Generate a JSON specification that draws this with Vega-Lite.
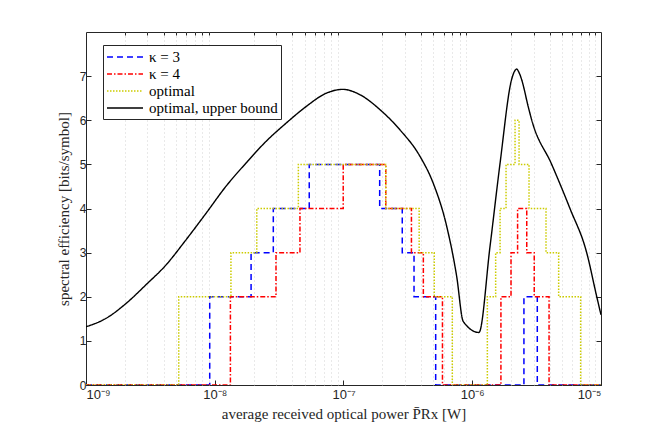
{
  "$schema": "https://vega.github.io/schema/vega-lite/v6.json",
  "width": 515,
  "height": 353,
  "autosize": {"type": "none"},
  "padding": {"left": 86, "top": 32, "right": 63, "bottom": 49},
  "background": "white",
  "config": {
    "view": {"stroke": "#262626", "strokeWidth": 1},
    "axis": {
      "labelFont": "Liberation Sans",
      "labelFontSize": 12,
      "labelColor": "#262626",
      "titleFont": "Liberation Serif",
      "titleFontSize": 15,
      "titleFontWeight": "normal",
      "titleColor": "#262626",
      "domain": false,
      "tickColor": "#262626",
      "gridColor": "#dcdcdc",
      "gridWidth": 0.8
    },
    "legend": {
      "orient": "none",
      "legendX": 17,
      "legendY": 13,
      "strokeColor": "#262626",
      "fillColor": "white",
      "padding": 3,
      "rowPadding": 0,
      "labelFont": "Liberation Serif",
      "labelFontSize": 15,
      "labelColor": "#000000",
      "labelOffset": 15,
      "symbolType": "M-2.25,0H2.25",
      "symbolSize": 256,
      "symbolOffset": 10,
      "symbolStrokeWidth": 1.5,
      "title": null
    }
  },
  "datasets": {
    "steps": [
      {"s": "κ = 3", "p": 1e-9, "se": 0},
      {"s": "κ = 3", "p": 9.14e-9, "se": 2},
      {"s": "κ = 3", "p": 1.915e-8, "se": 3},
      {"s": "κ = 3", "p": 2.85e-8, "se": 4},
      {"s": "κ = 3", "p": 5.42e-8, "se": 5},
      {"s": "κ = 3", "p": 1.91e-7, "se": 4},
      {"s": "κ = 3", "p": 2.86e-7, "se": 3},
      {"s": "κ = 3", "p": 3.53e-7, "se": 2},
      {"s": "κ = 3", "p": 5.2e-7, "se": 0},
      {"s": "κ = 3", "p": 2.52e-6, "se": 2},
      {"s": "κ = 3", "p": 3.2e-6, "se": 0},
      {"s": "κ = 3", "p": 1e-5, "se": 0},
      {"s": "κ = 4", "p": 1e-9, "se": 0},
      {"s": "κ = 4", "p": 1.323e-8, "se": 2},
      {"s": "κ = 4", "p": 2.99e-8, "se": 3},
      {"s": "κ = 4", "p": 4.59e-8, "se": 4},
      {"s": "κ = 4", "p": 9.95e-8, "se": 5},
      {"s": "κ = 4", "p": 2.13e-7, "se": 4},
      {"s": "κ = 4", "p": 3.37e-7, "se": 3},
      {"s": "κ = 4", "p": 4.17e-7, "se": 2},
      {"s": "κ = 4", "p": 5.87e-7, "se": 0},
      {"s": "κ = 4", "p": 1.67e-6, "se": 2},
      {"s": "κ = 4", "p": 2.0e-6, "se": 3},
      {"s": "κ = 4", "p": 2.25e-6, "se": 4},
      {"s": "κ = 4", "p": 2.65e-6, "se": 3},
      {"s": "κ = 4", "p": 3.03e-6, "se": 2},
      {"s": "κ = 4", "p": 3.95e-6, "se": 0},
      {"s": "κ = 4", "p": 1e-5, "se": 0},
      {"s": "optimal", "p": 1e-9, "se": 0},
      {"s": "optimal", "p": 5.25e-9, "se": 2},
      {"s": "optimal", "p": 1.336e-8, "se": 3},
      {"s": "optimal", "p": 2.12e-8, "se": 4},
      {"s": "optimal", "p": 4.46e-8, "se": 5},
      {"s": "optimal", "p": 2.13e-7, "se": 4},
      {"s": "optimal", "p": 3.87e-7, "se": 3},
      {"s": "optimal", "p": 5.07e-7, "se": 2},
      {"s": "optimal", "p": 7.0e-7, "se": 0},
      {"s": "optimal", "p": 1.31e-6, "se": 2},
      {"s": "optimal", "p": 1.52e-6, "se": 3},
      {"s": "optimal", "p": 1.645e-6, "se": 4},
      {"s": "optimal", "p": 1.83e-6, "se": 5},
      {"s": "optimal", "p": 2.15e-6, "se": 6},
      {"s": "optimal", "p": 2.31e-6, "se": 5},
      {"s": "optimal", "p": 2.76e-6, "se": 4},
      {"s": "optimal", "p": 3.74e-6, "se": 3},
      {"s": "optimal", "p": 4.69e-6, "se": 2},
      {"s": "optimal", "p": 6.95e-6, "se": 0},
      {"s": "optimal", "p": 1e-5, "se": 0}
    ],
    "bound": [
      {"s": "optimal, upper bound", "p": 1e-9, "se": 1.32},
      {"s": "optimal, upper bound", "p": 1.43e-9, "se": 1.51},
      {"s": "optimal, upper bound", "p": 2.05e-9, "se": 1.85},
      {"s": "optimal, upper bound", "p": 2.92e-9, "se": 2.27},
      {"s": "optimal, upper bound", "p": 4.18e-9, "se": 2.72},
      {"s": "optimal, upper bound", "p": 5.98e-9, "se": 3.29},
      {"s": "optimal, upper bound", "p": 8.55e-9, "se": 3.89},
      {"s": "optimal, upper bound", "p": 1.22e-8, "se": 4.5},
      {"s": "optimal, upper bound", "p": 1.75e-8, "se": 5.03},
      {"s": "optimal, upper bound", "p": 2.5e-8, "se": 5.52},
      {"s": "optimal, upper bound", "p": 3.57e-8, "se": 5.93},
      {"s": "optimal, upper bound", "p": 5.12e-8, "se": 6.31},
      {"s": "optimal, upper bound", "p": 7.31e-8, "se": 6.61},
      {"s": "optimal, upper bound", "p": 9.9e-8, "se": 6.7},
      {"s": "optimal, upper bound", "p": 1.34e-7, "se": 6.58},
      {"s": "optimal, upper bound", "p": 1.92e-7, "se": 6.24},
      {"s": "optimal, upper bound", "p": 2.75e-7, "se": 5.78},
      {"s": "optimal, upper bound", "p": 3.93e-7, "se": 5.18},
      {"s": "optimal, upper bound", "p": 4.98e-7, "se": 4.57},
      {"s": "optimal, upper bound", "p": 6.34e-7, "se": 3.59},
      {"s": "optimal, upper bound", "p": 7.57e-7, "se": 2.46},
      {"s": "optimal, upper bound", "p": 8.51e-7, "se": 1.44},
      {"s": "optimal, upper bound", "p": 1.127e-6, "se": 1.19},
      {"s": "optimal, upper bound", "p": 1.374e-6, "se": 3.14},
      {"s": "optimal, upper bound", "p": 1.645e-6, "se": 5.03},
      {"s": "optimal, upper bound", "p": 2.02e-6, "se": 6.92},
      {"s": "optimal, upper bound", "p": 2.12e-6, "se": 7.1},
      {"s": "optimal, upper bound", "p": 2.21e-6, "se": 7.16},
      {"s": "optimal, upper bound", "p": 2.31e-6, "se": 7.08},
      {"s": "optimal, upper bound", "p": 2.42e-6, "se": 6.92},
      {"s": "optimal, upper bound", "p": 2.72e-6, "se": 6.31},
      {"s": "optimal, upper bound", "p": 2.9e-6, "se": 6.0},
      {"s": "optimal, upper bound", "p": 4.14e-6, "se": 5.0},
      {"s": "optimal, upper bound", "p": 5.74e-6, "se": 4.0},
      {"s": "optimal, upper bound", "p": 7.74e-6, "se": 3.0},
      {"s": "optimal, upper bound", "p": 9.27e-6, "se": 2.0},
      {"s": "optimal, upper bound", "p": 1e-5, "se": 1.59}
    ]
  },
  "layer": [
    {
      "data": {"name": "steps"},
      "mark": {"type": "line", "interpolate": "step-after", "strokeWidth": 1.5, "clip": true},
      "encoding": {
        "x": {
          "field": "p",
          "type": "quantitative",
          "scale": {"type": "log", "domain": [1e-9, 1e-5], "nice": false},
          "axis": {
            "orient": "top",
            "values": [2e-9, 3e-9, 4e-9, 5e-9, 6e-9, 7e-9, 8e-9, 9e-9, 2e-8, 3e-8, 4e-8, 5e-8, 6e-8, 7e-8, 8e-8, 9e-8, 2e-7, 3e-7, 4e-7, 5e-7, 6e-7, 7e-7, 8e-7, 9e-7, 2e-6, 3e-6, 4e-6, 5e-6, 6e-6, 7e-6, 8e-6, 9e-6],
            "labels": false,
            "title": null,
            "tickSize": -3,
            "gridDash": [1, 3],
            "gridColor": "#c8c8c8"
          }
        },
        "y": {
          "field": "se",
          "type": "quantitative",
          "scale": {"domain": [0, 8], "nice": false},
          "axis": {
            "orient": "right",
            "values": [0, 1, 2, 3, 4, 5, 6, 7],
            "labels": false,
            "title": null,
            "grid": false,
            "tickSize": -5
          }
        },
        "color": {
          "field": "s",
          "type": "nominal",
          "scale": {
            "domain": ["κ = 3", "κ = 4", "optimal", "optimal, upper bound"],
            "range": ["#0000ff", "#ff0000", "#cccc00", "#000000"]
          },
          "legend": {"labelFont": "Liberation Serif", "labelFontSize": 15}
        },
        "strokeDash": {
          "field": "s",
          "type": "nominal",
          "scale": {
            "domain": ["κ = 3", "κ = 4", "optimal", "optimal, upper bound"],
            "range": [[6, 4], [5, 2, 1.5, 2], [1.5, 1.5], [1, 0]]
          }
        }
      }
    },
    {
      "data": {"name": "bound"},
      "mark": {"type": "line", "interpolate": "monotone", "strokeWidth": 1.4, "clip": true},
      "encoding": {
        "x": {
          "field": "p",
          "type": "quantitative",
          "axis": {
            "orient": "bottom",
            "values": [1e-9, 1e-8, 1e-7, 1e-6, 1e-5],
            "labelExpr": "datum.value < 5e-9 ? '10⁻⁹' : datum.value < 5e-8 ? '10⁻⁸' : datum.value < 5e-7 ? '10⁻⁷' : datum.value < 5e-6 ? '10⁻⁶' : '10⁻⁵'",
            "labelFontSize": 13,
            "labelPadding": 8,
            "tickSize": -5,
            "title": "average received optical power P̄Rx [W]",
            "titlePadding": 5
          }
        },
        "y": {
          "field": "se",
          "type": "quantitative",
          "axis": {
            "orient": "left",
            "values": [0, 1, 2, 3, 4, 5, 6, 7],
            "tickSize": -5,
            "labelPadding": 5,
            "title": "spectral efficiency [bits/symbol]",
            "titlePadding": 8
          }
        },
        "color": {"field": "s", "type": "nominal"},
        "strokeDash": {"field": "s", "type": "nominal"}
      }
    }
  ],
  "resolve": {"axis": {"x": "independent", "y": "independent"}}
}
